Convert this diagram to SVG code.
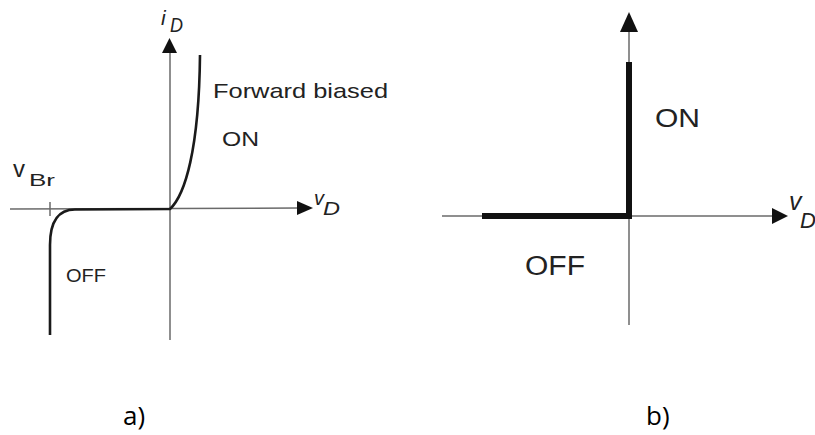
<svg xmlns="http://www.w3.org/2000/svg" width="815" height="435" viewBox="0 0 815 435">
  <style>
    .axis { stroke: #6a6a6a; stroke-width: 1.5; fill: none; }
    .head { fill: #111; stroke: none; }
    .curve { stroke: #1a1a1a; stroke-width: 2.6; fill: none; stroke-linecap: butt; stroke-linejoin: round; }
    .thick { stroke: #111; stroke-width: 6; fill: none; }
    .t { font-family: "Liberation Sans", Arial, sans-serif; fill: #222; }
    .ti { font-family: "Liberation Sans", Arial, sans-serif; font-style: italic; fill: #222; }
    .cap { font-family: "Open Sans", "Noto Sans", sans-serif; fill: #000; font-size: 26px; }
  </style>

  <g id="figure-a">
    <g id="axes-a">
      <line class="axis" x1="10" y1="209" x2="299" y2="208"/>
      <polygon class="head" points="297,201 313,208 297,215"/>
      <line class="axis" x1="170" y1="52" x2="170" y2="340"/>
      <polygon class="head" points="162,53 169.5,38 177,53"/>
      <line class="axis" x1="50" y1="202" x2="50" y2="216"/>
    </g>
    <g id="curve-a">
      <path class="curve" d="M50 335 L50 245 C50 222 58 209.5 75 209.5 L170 209 C185 195 199 150 200 55"/>
    </g>
    <g id="labels-a">
      <text class="ti" x="161" y="25" font-size="21">i</text>
      <text class="ti" x="170" y="32" font-size="20" textLength="13" lengthAdjust="spacingAndGlyphs">D</text>
      <text class="ti" x="314" y="205" font-size="20">v</text>
      <text class="ti" x="323" y="215" font-size="19" textLength="17" lengthAdjust="spacingAndGlyphs">D</text>
      <text class="t" x="13" y="177" font-size="23" textLength="12" lengthAdjust="spacingAndGlyphs">v</text>
      <text class="t" x="29" y="186" font-size="17" textLength="26" lengthAdjust="spacingAndGlyphs">Br</text>
      <text class="t" x="213" y="98" font-size="21" textLength="175" lengthAdjust="spacingAndGlyphs">Forward biased</text>
      <text class="t" x="222" y="146" font-size="20" textLength="37" lengthAdjust="spacingAndGlyphs">ON</text>
      <text class="t" x="66" y="282" font-size="19" textLength="40" lengthAdjust="spacingAndGlyphs">OFF</text>
    </g>
  </g>

  <g id="figure-b">
    <g id="axes-b">
      <line class="axis" x1="442" y1="216" x2="774" y2="216"/>
      <polygon class="head" points="772,208 788,216 772,224"/>
      <line class="axis" x1="629" y1="30" x2="629" y2="325"/>
      <polygon class="head" points="620,32 629,12 638,32"/>
    </g>
    <g id="characteristic-b">
      <path class="thick" d="M629 62 L629 216 M482 216 L632 216"/>
    </g>
    <g id="labels-b">
      <text class="t" x="655" y="127" font-size="26" textLength="45" lengthAdjust="spacingAndGlyphs">ON</text>
      <text class="t" x="525" y="275" font-size="27" textLength="60" lengthAdjust="spacingAndGlyphs">OFF</text>
      <text class="ti" x="789" y="210" font-size="25">v</text>
      <text class="ti" x="800" y="228" font-size="22">D</text>
    </g>
  </g>

  <g id="captions">
    <text class="cap" x="123" y="425">a)</text>
    <text class="cap" x="646" y="425">b)</text>
  </g>
</svg>
